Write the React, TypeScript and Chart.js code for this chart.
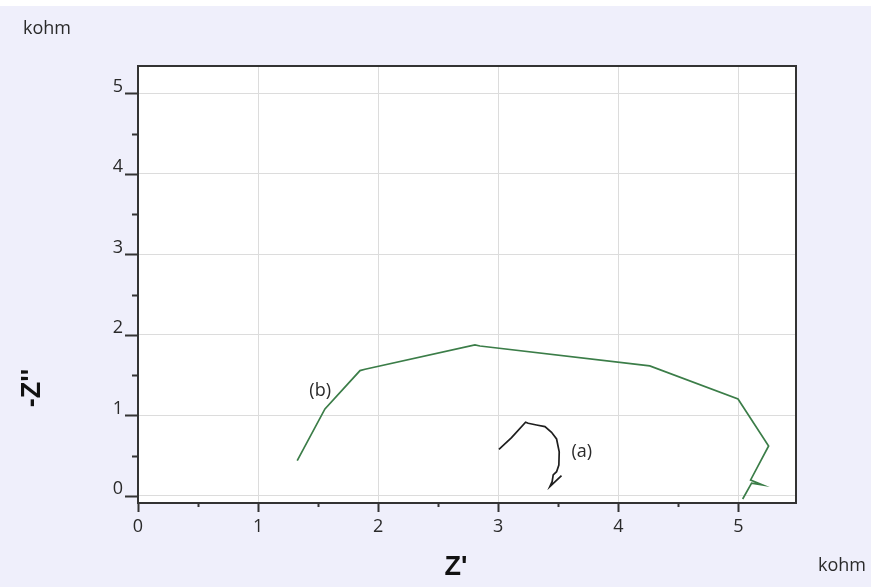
import React, { useEffect, useRef } from 'react';
import { Chart, registerables } from 'chart.js';
Chart.register(...registerables);

// Series (b) – green Nyquist curve (kohm)
const seriesBZre = [1.326, 1.557, 1.849, 1.891, 2.806, 2.848, 4.262, 4.997, 5.252, 5.102, 5.202, 5.11, 5.036];
const seriesBZim = [0.439, 1.081, 1.557, 1.574, 1.876, 1.863, 1.615, 1.205, 0.621, 0.199, 0.137, 0.16, -0.037];

// Series (a) – black curve (kohm)
const seriesAZre = [3.006, 3.111, 3.228, 3.25, 3.319, 3.389, 3.444, 3.486, 3.508, 3.505, 3.486, 3.458, 3.449, 3.43, 3.527];
const seriesAZim = [0.58, 0.724, 0.916, 0.903, 0.882, 0.861, 0.791, 0.708, 0.55, 0.385, 0.302, 0.261, 0.178, 0.116, 0.252];

const xTickValues = [0, 0.5, 1, 1.5, 2, 2.5, 3, 3.5, 4, 4.5, 5];
const yTickValues = [0, 0.5, 1, 1.5, 2, 2.5, 3, 3.5, 4, 4.5, 5];
const xRange = [0, 5.48];
const yRange = [-0.087, 5.34];

const curveLabels = ['(b)', '(a)'];
const curveLabelX = [1.517, 3.696];
const curveLabelY = [1.304, 0.547];

const xTitle = "Z'";
const yTitle = "-Z''";
const unitLabel = 'kohm';

const BG = '#efeffb';
const TEXT = '#2a2a2a';
const FONT = "'Open Sans', 'DejaVu Sans', sans-serif";

const isMajor = (v: number) => Math.abs(v - Math.round(v)) < 1e-6;

export default function App() {
  const ref = useRef<HTMLCanvasElement>(null);

  useEffect(() => {
    document.body.style.margin = '0';
    const canvas = ref.current!;

    const decor = {
      id: 'decor',
      beforeDraw(chart: any) {
        const { ctx, width, height } = chart;
        const { left, top, right, bottom } = chart.chartArea;
        ctx.save();
        ctx.fillStyle = BG;
        ctx.fillRect(0, 0, width, height);
        ctx.fillStyle = '#ffffff';
        ctx.fillRect(0, 0, width, 6);
        ctx.fillRect(left, top, right - left, bottom - top);
        ctx.restore();
      },
      afterDraw(chart: any) {
        const { ctx } = chart;
        const { left, top, right, bottom } = chart.chartArea;
        const xs = chart.scales.x;
        const ys = chart.scales.y;
        ctx.save();
        // frame
        ctx.strokeStyle = '#333333';
        ctx.lineWidth = 2;
        ctx.strokeRect(left, top, right - left, bottom - top);
        // tick marks
        ctx.lineWidth = 2;
        ctx.beginPath();
        xs.ticks.forEach((t: any) => {
          const px = Math.round(xs.getPixelForValue(t.value)) + 0.5;
          ctx.moveTo(px, bottom);
          ctx.lineTo(px, bottom + (isMajor(t.value) ? 9 : 4));
        });
        ys.ticks.forEach((t: any) => {
          const py = Math.round(ys.getPixelForValue(t.value)) + 0.5;
          ctx.moveTo(left, py);
          ctx.lineTo(left - (isMajor(t.value) ? 13 : 6), py);
        });
        ctx.stroke();

        // curve labels
        ctx.fillStyle = TEXT;
        ctx.font = `18px ${FONT}`;
        ctx.textAlign = 'center';
        ctx.textBaseline = 'middle';
        curveLabels.forEach((s, i) => {
          ctx.fillText(s, xs.getPixelForValue(curveLabelX[i]), ys.getPixelForValue(curveLabelY[i]));
        });

        // unit labels
        ctx.font = `18px ${FONT}`;
        ctx.fillText(unitLabel, 47, 29);
        ctx.fillText(unitLabel, 842, 566);

        // axis titles
        ctx.fillStyle = '#111111';
        ctx.font = `bold 27px 'Liberation Sans', Arial, sans-serif`;
        ctx.fillText(xTitle, 456, 568);
        ctx.translate(33, 388);
        ctx.rotate(-Math.PI / 2);
        ctx.fillText(yTitle, 0, 0);
        ctx.restore();
      },
    };

    const chart = new Chart(canvas, {
      type: 'scatter',
      data: {
        datasets: [
          {
            label: '(b)',
            data: seriesBZre.map((x, i) => ({ x, y: seriesBZim[i] })),
            showLine: true,
            borderColor: '#3b7d48',
            borderWidth: 1.7,
            pointRadius: 0,
            tension: 0,
          },
          {
            label: '(a)',
            data: seriesAZre.map((x, i) => ({ x, y: seriesAZim[i] })),
            showLine: true,
            borderColor: '#1e1e1e',
            borderWidth: 1.7,
            pointRadius: 0,
            tension: 0,
          },
        ],
      },
      options: {
        responsive: false,
        animation: false,
        devicePixelRatio: 1,
        layout: { padding: { top: 66, right: 75, left: 0, bottom: 0 } },
        plugins: { legend: { display: false }, tooltip: { enabled: false } },
        scales: {
          x: {
            type: 'linear',
            min: xRange[0],
            max: xRange[1],
            afterBuildTicks: (s: any) => {
              s.ticks = xTickValues.map((v) => ({ value: v }));
            },
            afterFit: (s: any) => {
              s.height = 84;
            },
            grid: {
              drawTicks: false,
              color: (c: any) => (c.tick && isMajor(c.tick.value) ? '#dcdcdc' : 'rgba(0,0,0,0)'),
              lineWidth: 1,
            },
            border: { display: false },
            ticks: {
              autoSkip: false,
              maxRotation: 0,
              padding: 13,
              color: TEXT,
              font: { size: 18, family: FONT },
              callback: (v: any) => (isMajor(Number(v)) ? String(Math.round(Number(v))) : ''),
            },
          },
          y: {
            type: 'linear',
            min: yRange[0],
            max: yRange[1],
            afterBuildTicks: (s: any) => {
              s.ticks = yTickValues.map((v) => ({ value: v }));
            },
            afterFit: (s: any) => {
              s.width = 138;
            },
            grid: {
              drawTicks: false,
              color: (c: any) => (c.tick && isMajor(c.tick.value) ? '#dcdcdc' : 'rgba(0,0,0,0)'),
              lineWidth: 1,
            },
            border: { display: false },
            ticks: {
              autoSkip: false,
              padding: 15,
              labelOffset: -7,
              color: TEXT,
              font: { size: 18, family: FONT },
              callback: (v: any) => (isMajor(Number(v)) ? String(Math.round(Number(v))) : ''),
            },
          },
        },
      },
      plugins: [decor],
    } as any);

    return () => chart.destroy();
  }, []);

  return (
    <div style={{ width: 871, height: 587 }}>
      <canvas ref={ref} width={871} height={587} style={{ display: 'block', width: 871, height: 587 }} />
    </div>
  );
}
